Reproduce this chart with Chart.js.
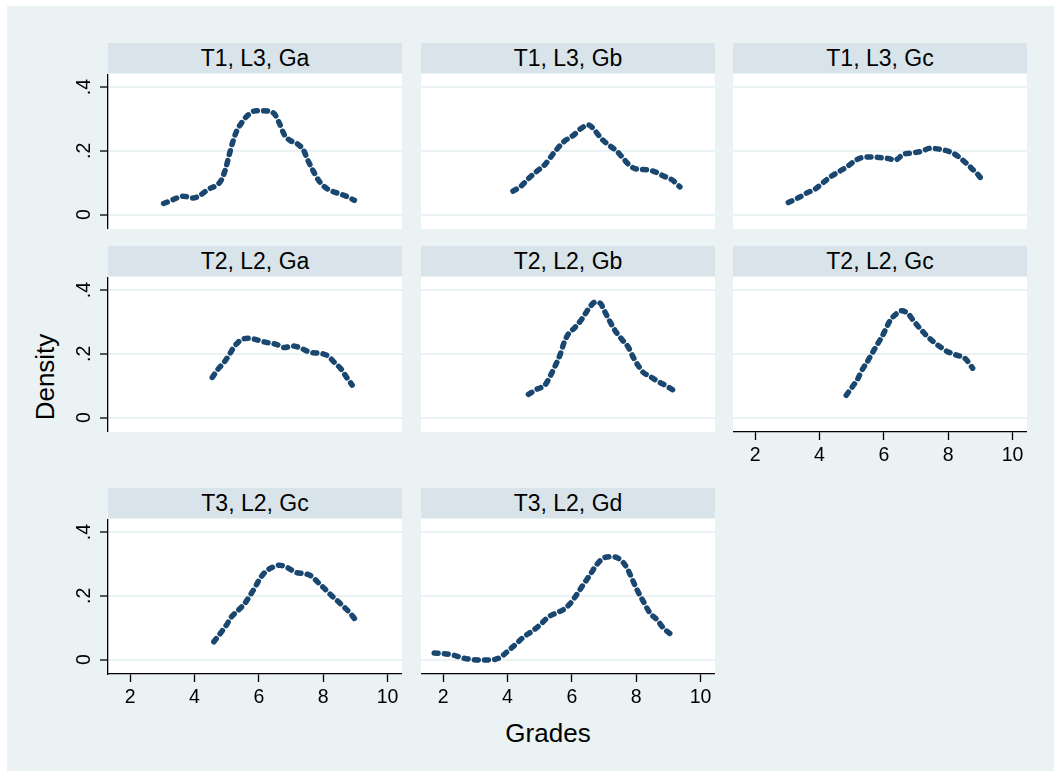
<!DOCTYPE html>
<html>
<head>
<meta charset="utf-8">
<script src="https://cdn.jsdelivr.net/npm/chart.js@4.4.1/dist/chart.umd.min.js"></script>
<style>
    body { margin: 0; background: #fff; width: 1054px; height: 771px; overflow: hidden; }
    #graph { position: absolute; left: 7px; top: 6px; width: 1047px; height: 765px; background: #eaf2f3; }
    .strip { position: absolute; height: 30px; background: #d8e4ea; color: #000;
             font: 23px 'Liberation Sans', Arial, sans-serif; line-height: 31px; text-align: center; }
    canvas { position: absolute; }
    .axtitle { position: absolute; font: 26px 'Liberation Sans', Arial, sans-serif; color: #000;
               white-space: nowrap; transform: translate(-50%, -50%); }
</style>
</head>
<body>
<div id="graph"></div>
<div class="axtitle" style="left:45px; top:377px; transform: translate(-50%, -50%) rotate(-90deg);">Density</div>
<div class="axtitle" style="left:548px; top:733px;">Grades</div>
<script>
// valores (kdensity das notas por grupo)
const panelTitles = ['T1, L3, Ga', 'T1, L3, Gb', 'T1, L3, Gc',
                     'T2, L2, Ga', 'T2, L2, Gb', 'T2, L2, Gc',
                     'T3, L2, Gc', 'T3, L2, Gd'];
const xTicks = [2, 4, 6, 8, 10];
const yTicks = [0, 0.2, 0.4];

const gradesT1Ga = [3.04, 3.33, 3.64, 3.95, 4.16, 4.42, 4.68, 4.83, 4.97, 5.09, 5.19, 5.30, 5.45, 5.66, 5.92, 6.23, 6.49, 6.64, 6.80, 6.95, 7.21, 7.39, 7.52, 7.68, 7.89, 8.14, 8.40, 8.71, 8.97];
const densT1Ga   = [0.035, 0.047, 0.058, 0.052, 0.060, 0.079, 0.092, 0.108, 0.145, 0.192, 0.228, 0.260, 0.286, 0.312, 0.326, 0.325, 0.315, 0.286, 0.249, 0.234, 0.221, 0.202, 0.171, 0.139, 0.103, 0.080, 0.069, 0.058, 0.045];

const gradesT1Gb = [4.17, 4.39, 4.65, 4.91, 5.17, 5.43, 5.74, 6.05, 6.31, 6.52, 6.72, 6.93, 7.19, 7.40, 7.60, 7.81, 8.07, 8.33, 8.59, 8.85, 9.10, 9.36];
const densT1Gb   = [0.074, 0.087, 0.113, 0.136, 0.158, 0.192, 0.228, 0.249, 0.272, 0.281, 0.263, 0.237, 0.215, 0.199, 0.176, 0.153, 0.142, 0.141, 0.134, 0.121, 0.110, 0.087];

const gradesT1Gc = [3.03, 3.34, 3.62, 3.86, 4.07, 4.33, 4.59, 4.85, 5.05, 5.31, 5.57, 5.88, 6.14, 6.35, 6.60, 6.92, 7.18, 7.43, 7.75, 8.00, 8.26, 8.52, 8.73, 8.94, 9.07];
const densT1Gc   = [0.038, 0.053, 0.069, 0.080, 0.097, 0.118, 0.134, 0.150, 0.165, 0.179, 0.181, 0.179, 0.176, 0.171, 0.189, 0.194, 0.199, 0.208, 0.205, 0.199, 0.186, 0.165, 0.145, 0.124, 0.106];

const gradesT2Ga = [4.55, 4.73, 4.93, 5.09, 5.25, 5.45, 5.71, 5.97, 6.23, 6.54, 6.80, 7.06, 7.32, 7.63, 7.89, 8.14, 8.35, 8.56, 8.71, 8.90];
const densT2Ga   = [0.126, 0.152, 0.175, 0.199, 0.225, 0.244, 0.249, 0.243, 0.236, 0.230, 0.220, 0.225, 0.217, 0.204, 0.202, 0.194, 0.173, 0.152, 0.129, 0.102];

const gradesT2Gb = [4.65, 4.91, 5.17, 5.33, 5.48, 5.64, 5.76, 5.89, 6.10, 6.31, 6.52, 6.72, 6.88, 7.01, 7.17, 7.35, 7.55, 7.76, 7.91, 8.07, 8.22, 8.43, 8.69, 8.95, 9.14];
const densT2Gb   = [0.073, 0.089, 0.103, 0.131, 0.162, 0.199, 0.236, 0.262, 0.283, 0.309, 0.341, 0.362, 0.359, 0.335, 0.304, 0.272, 0.246, 0.220, 0.189, 0.162, 0.142, 0.129, 0.113, 0.099, 0.087];

const gradesT2Gc = [4.83, 5.00, 5.18, 5.31, 5.47, 5.62, 5.78, 5.93, 6.06, 6.19, 6.38, 6.56, 6.76, 6.92, 7.12, 7.33, 7.54, 7.75, 8.00, 8.26, 8.52, 8.76];
const densT2Gc   = [0.070, 0.094, 0.120, 0.147, 0.173, 0.199, 0.227, 0.252, 0.278, 0.304, 0.325, 0.335, 0.325, 0.304, 0.280, 0.257, 0.238, 0.222, 0.206, 0.196, 0.186, 0.155];

const gradesT3Gc = [4.60, 4.80, 4.99, 5.14, 5.35, 5.56, 5.71, 5.87, 6.02, 6.18, 6.39, 6.64, 6.90, 7.16, 7.42, 7.66, 7.86, 8.07, 8.28, 8.51, 8.71, 8.90, 9.08];
const densT3Gc   = [0.056, 0.082, 0.108, 0.133, 0.154, 0.176, 0.199, 0.225, 0.252, 0.273, 0.288, 0.296, 0.288, 0.273, 0.270, 0.260, 0.240, 0.220, 0.199, 0.178, 0.159, 0.138, 0.115];

const gradesT3Gd = [1.72, 2.01, 2.32, 2.63, 2.94, 3.25, 3.57, 3.77, 4.00, 4.24, 4.50, 4.76, 5.02, 5.27, 5.53, 5.74, 5.95, 6.15, 6.36, 6.57, 6.78, 6.98, 7.24, 7.50, 7.71, 7.86, 8.02, 8.22, 8.43, 8.64, 8.84, 9.16];
const densT3Gd   = [0.021, 0.019, 0.014, 0.005, 0.000, -0.001, 0.000, 0.007, 0.026, 0.047, 0.071, 0.089, 0.110, 0.134, 0.147, 0.157, 0.176, 0.204, 0.236, 0.267, 0.299, 0.318, 0.323, 0.314, 0.288, 0.256, 0.220, 0.183, 0.146, 0.126, 0.100, 0.073];

const panelGrades = [gradesT1Ga, gradesT1Gb, gradesT1Gc, gradesT2Ga, gradesT2Gb, gradesT2Gc, gradesT3Gc, gradesT3Gd];
const panelDens   = [densT1Ga, densT1Gb, densT1Gc, densT2Ga, densT2Gb, densT2Gc, densT3Gc, densT3Gd];

// layout dos painéis
const colLeft = [108, 421, 733];
const rowStrip = [43, 246, 488];
const rowPlot = [74, 277, 519];
const plotW = 294;
const plotH = 155;
const yAxisW = 78;
const xAxisH = 40;

const FONT = "'Liberation Sans', Arial, sans-serif";
Chart.defaults.font.family = FONT;
Chart.defaults.color = '#000';

const plotBg = {
    id: 'plotBg',
    beforeDraw(chart) {
        const { ctx, chartArea: a } = chart;
        ctx.save();
        ctx.fillStyle = '#ffffff';
        ctx.fillRect(a.left, a.top, a.right - a.left, a.bottom - a.top);
        ctx.restore();
    }
};

function semPadding(s) {
    s.paddingTop = 0;
    s.paddingBottom = 0;
    s.paddingLeft = 0;
    s.paddingRight = 0;
}

function desenharPainel(i) {
    const row = Math.floor(i / 3);
    const col = i % 3;
    const hasY = col === 0;
    const hasX = i >= 5;

    const strip = document.createElement('div');
    strip.className = 'strip';
    strip.style.left = colLeft[col] + 'px';
    strip.style.top = rowStrip[row] + 'px';
    strip.style.width = plotW + 'px';
    strip.textContent = panelTitles[i];
    document.body.appendChild(strip);

    const cv = document.createElement('canvas');
    const w = plotW + (hasY ? yAxisW : 0);
    const h = plotH + (hasX ? xAxisH : 0);
    cv.width = w;
    cv.height = h;
    cv.style.width = w + 'px';
    cv.style.height = h + 'px';
    cv.style.left = (colLeft[col] - (hasY ? yAxisW : 0)) + 'px';
    cv.style.top = rowPlot[row] + 'px';
    document.body.appendChild(cv);

    const pts = panelGrades[i].map((g, k) => ({ x: g, y: panelDens[i][k] }));

    new Chart(cv.getContext('2d'), {
        type: 'line',
        data: {
            datasets: [{
                data: pts,
                borderColor: '#1a476f',
                borderWidth: 5.5,
                borderDash: [3.9, 6.3],
                borderCapStyle: 'round',
                borderJoinStyle: 'round',
                pointRadius: 0,
                cubicInterpolationMode: 'monotone',
                fill: false
            }]
        },
        options: {
            responsive: false,
            maintainAspectRatio: false,
            animation: false,
            devicePixelRatio: 1,
            layout: { padding: 0 },
            plugins: { legend: { display: false }, tooltip: { enabled: false } },
            scales: {
                x: {
                    type: 'linear',
                    min: 1.31,
                    max: 10.45,
                    display: hasX,
                    afterBuildTicks: s => { s.ticks = xTicks.map(v => ({ value: v })); },
                    afterFit: s => { if (hasX) s.height = xAxisH; semPadding(s); },
                    grid: { drawOnChartArea: false, tickLength: 8, tickColor: '#000', tickWidth: 1.3 },
                    border: { color: '#000', width: 1.3 },
                    ticks: { font: { size: 19.5 }, padding: 4, maxRotation: 0, autoSkip: false }
                },
                y: {
                    type: 'linear',
                    min: -0.045,
                    max: 0.441,
                    afterBuildTicks: s => { s.ticks = yTicks.map(v => ({ value: v })); },
                    afterFit: s => { s.width = hasY ? yAxisW : 0; semPadding(s); },
                    grid: { color: '#eaf2f3', lineWidth: 2, drawTicks: hasY, tickLength: 8, tickColor: '#000', tickWidth: 1.3 },
                    border: { display: hasY, color: '#000', width: 1.3 },
                    ticks: {
                        display: hasY,
                        minRotation: 90,
                        maxRotation: 90,
                        crossAlign: 'center',
                        padding: 7,
                        font: { size: 19.5 },
                        callback: v => v === 0 ? '0' : String(v).replace(/^0/, '')
                    }
                }
            }
        },
        plugins: [plotBg]
    });
}

panelTitles.forEach((t, i) => desenharPainel(i));
</script>
</body>
</html>
